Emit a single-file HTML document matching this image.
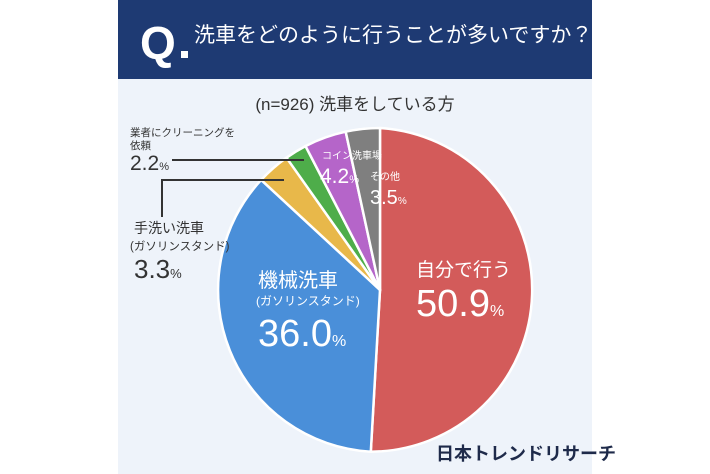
<!DOCTYPE html>
<html><head><meta charset="utf-8"><style>
html,body{margin:0;padding:0;background:#fff;width:710px;height:474px;overflow:hidden}
svg text{font-family:"Liberation Sans","Noto Sans CJK JP",sans-serif}
</style></head><body>
<svg width="710" height="474" viewBox="0 0 710 474" xmlns="http://www.w3.org/2000/svg">
<rect x="0" y="0" width="710" height="474" fill="#fff"/>
<rect x="118" y="0" width="474" height="474" fill="#eef3fa"/>
<rect x="118" y="0" width="474" height="79" fill="#1e3a73"/>
<text x="140" y="59" font-size="46" font-weight="bold" fill="#fff">Q</text>
<rect x="181" y="51" width="7" height="7" fill="#fff"/>
<text x="194" y="42" font-size="21" fill="#fff">洗車をどのように行うことが多いですか？</text>
<text x="355" y="110" font-size="17" fill="#333" text-anchor="middle">(n=926) 洗車をしている方</text>
<g stroke="#fff" stroke-width="2.5" stroke-linejoin="round">
<path d="M380,290 L380,128 A162,162 0 0 1 370.8,451.7 Z" fill="#d35b5a"/>
<path d="M380,290 L370.8,451.7 A162,162 0 0 1 261.2,179.9 Z" fill="#4a8fd9"/>
<path d="M380,290 L261.2,179.9 A162,162 0 0 1 286.5,157.7 Z" fill="#e8b84a"/>
<path d="M380,290 L286.5,157.7 A162,162 0 0 1 305.5,146.1 Z" fill="#4ead4a"/>
<path d="M380,290 L305.5,146.1 A162,162 0 0 1 345.7,131.7 Z" fill="#b565c9"/>
<path d="M380,290 L345.7,131.7 A162,162 0 0 1 380,128 Z" fill="#7f7f7f"/>
</g>
<g stroke="#333" stroke-width="2" fill="none">
<line x1="172" y1="160" x2="304" y2="160"/>
<polyline points="162,217 162,180 284,180"/>
</g>
<text x="130" y="136" font-size="10.5" fill="#333">業者にクリーニングを</text>
<text x="130" y="149" font-size="10.5" fill="#333">依頼</text>
<text x="130" y="170" font-size="21" fill="#333">2.2<tspan font-size="11">%</tspan></text>
<text x="134" y="233" font-size="14" fill="#333">手洗い洗車</text>
<text x="130" y="250" font-size="11.5" fill="#333">(ガソリンスタンド)</text>
<text x="134" y="278" font-size="26" fill="#333">3.3<tspan font-size="13">%</tspan></text>
<text x="322" y="159" font-size="10" fill="#fff">コイン洗車場</text>
<text x="320" y="183" font-size="21" fill="#fff">4.2<tspan font-size="11">%</tspan></text>
<text x="370" y="180" font-size="10" fill="#fff">その他</text>
<text x="370" y="204" font-size="20" fill="#fff">3.5<tspan font-size="10">%</tspan></text>
<text x="258" y="287" font-size="20" fill="#fff">機械洗車</text>
<text x="256" y="305" font-size="12" fill="#fff">(ガソリンスタンド)</text>
<text x="258" y="346" font-size="38" fill="#fff">36.0<tspan font-size="16">%</tspan></text>
<text x="416" y="276" font-size="19" fill="#fff">自分で行う</text>
<text x="416" y="316" font-size="38" fill="#fff">50.9<tspan font-size="16">%</tspan></text>
<text x="436" y="460" font-size="18" font-weight="bold" fill="#1e2a4a">日本トレンドリサーチ</text>
</svg>
</body></html>
